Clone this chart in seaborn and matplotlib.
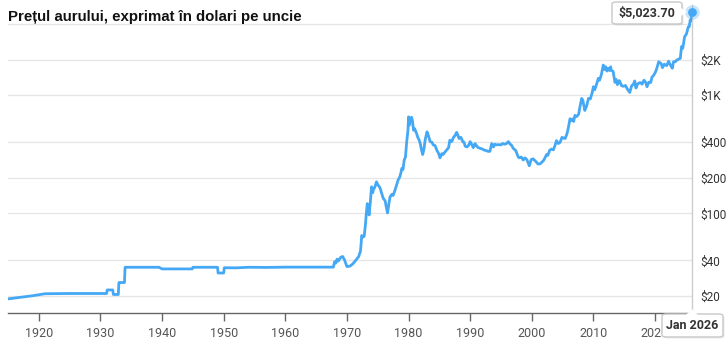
import matplotlib
matplotlib.use("Agg")
import matplotlib.pyplot as plt
import seaborn as sns
import pandas as pd
from matplotlib.patches import FancyBboxPatch, Polygon

title = "Prețul aurului, exprimat în dolari pe uncie"

years = [1915.0, 1917.0, 1919.0, 1920.0, 1921.0, 1925.0, 1931.0, 1931.1, 1932.0, 1932.1,
         1932.9, 1933.0, 1933.9, 1934.0, 1939.5, 1940.0, 1944.9, 1945.0, 1949.0, 1949.1,
         1950.0, 1950.1, 1952.0, 1954.0, 1957.0, 1960.0, 1967.8, 1968.0, 1968.2, 1968.4,
         1968.6, 1969.0, 1969.3, 1969.6, 1970.0, 1970.5, 1971.0, 1971.5, 1971.9, 1972.2,
         1972.3, 1972.4, 1972.6, 1972.8, 1973.0, 1973.1, 1973.3, 1973.45, 1973.6, 1973.8,
         1974.0, 1974.2, 1974.3, 1974.5, 1974.8, 1975.0, 1975.2, 1975.4, 1975.6, 1975.9,
         1976.2, 1976.4, 1976.6, 1976.8, 1977.0, 1977.3, 1977.5, 1977.8, 1978.0, 1978.3,
         1978.6, 1978.8, 1978.9, 1979.1, 1979.3, 1979.5, 1979.7, 1979.9, 1980.0, 1980.15,
         1980.3, 1980.5, 1980.65, 1980.8, 1981.0, 1981.3, 1981.5, 1981.7, 1981.9, 1982.1,
         1982.3, 1982.5, 1982.7, 1983.0, 1983.2, 1983.5, 1983.8, 1984.0, 1984.3, 1984.6,
         1984.9, 1985.1, 1985.4, 1985.6, 1985.9, 1986.2, 1986.5, 1986.7, 1987.0, 1987.3,
         1987.6, 1987.8, 1988.0, 1988.2, 1988.5, 1988.8, 1989.0, 1989.2, 1989.5, 1989.8,
         1990.0, 1990.3, 1990.5, 1990.8, 1991.0, 1991.3, 1991.6, 1992.0, 1992.3, 1992.6,
         1992.9, 1993.2, 1993.5, 1993.8, 1994.0, 1994.3, 1994.6, 1995.0, 1995.3, 1995.6,
         1995.9, 1996.2, 1996.5, 1996.7, 1997.0, 1997.4, 1997.8, 1998.0, 1998.3, 1998.6,
         1998.9, 1999.2, 1999.6, 1999.9, 2000.2, 2000.5, 2000.8, 2001.0, 2001.3, 2001.6,
         2001.9, 2002.1, 2002.4, 2002.6, 2002.9, 2003.2, 2003.5, 2003.8, 2004.0, 2004.3,
         2004.6, 2004.9, 2005.1, 2005.4, 2005.7, 2005.9, 2006.2, 2006.4, 2006.6, 2006.8,
         2007.0, 2007.3, 2007.6, 2007.8, 2008.1, 2008.3, 2008.6, 2008.9, 2009.2, 2009.5,
         2009.8, 2010.0, 2010.2, 2010.5, 2010.8, 2011.0, 2011.3, 2011.6, 2011.8, 2012.0,
         2012.2, 2012.4, 2012.6, 2012.8, 2012.9, 2013.2, 2013.5, 2013.7, 2013.9, 2014.2,
         2014.6, 2014.9, 2015.2, 2015.5, 2015.9, 2016.2, 2016.5, 2016.7, 2016.9, 2017.2,
         2017.6, 2017.9, 2018.2, 2018.5, 2018.7, 2019.0, 2019.3, 2019.5, 2019.8, 2020.1,
         2020.3, 2020.6, 2020.8, 2021.0, 2021.2, 2021.5, 2021.7, 2021.9, 2022.2, 2022.5,
         2022.8, 2023.0, 2023.3, 2023.5, 2023.7, 2023.9, 2024.1, 2024.3, 2024.5, 2024.8,
         2025.1, 2025.4, 2025.55, 2025.7, 2025.85, 2026.0]

prices = [18.9, 19.5, 20.1, 20.5, 20.9, 21.0, 21.0, 22.5, 22.5, 20.6,
          20.6, 26.0, 26.0, 35.0, 35.0, 33.9, 33.9, 35.0, 35.0, 31.3,
          31.3, 34.7, 34.6, 35.0, 34.9, 35.1, 35.1, 39.0, 38.0, 41.0,
          39.5, 42.5, 43.2, 40.5, 35.5, 35.8, 37.6, 40.5, 43.0, 48.0,
          55.0, 65.0, 63.0, 64.0, 80.0, 93.0, 121.0, 110.0, 97.0, 125.0,
          168.0, 150.0, 160.0, 165.0, 185.0, 175.0, 170.0, 163.0, 150.0, 134.0,
          128.0, 112.0, 101.0, 120.0, 138.0, 145.0, 142.0, 157.0, 170.0, 191.0,
          205.0, 225.0, 240.0, 235.0, 283.0, 300.0, 404.0, 500.0, 656.0, 560.0,
          640.0, 650.0, 600.0, 506.0, 520.0, 475.0, 440.0, 420.0, 390.0, 345.0,
          315.0, 350.0, 420.0, 490.0, 460.0, 405.0, 400.0, 380.0, 375.0, 342.0,
          320.0, 295.0, 320.0, 315.0, 330.0, 345.0, 360.0, 416.0, 405.0, 440.0,
          460.0, 485.0, 460.0, 430.0, 440.0, 405.0, 400.0, 370.0, 365.0, 380.0,
          405.0, 380.0, 360.0, 390.0, 375.0, 360.0, 356.0, 350.0, 343.0, 340.0,
          335.0, 335.0, 390.0, 365.0, 385.0, 380.0, 382.0, 380.0, 390.0, 385.0,
          390.0, 405.0, 385.0, 378.0, 355.0, 340.0, 300.0, 295.0, 300.0, 283.0,
          295.0, 285.0, 253.0, 285.0, 290.0, 280.0, 270.0, 262.0, 262.0, 270.0,
          280.0, 292.0, 315.0, 310.0, 342.0, 350.0, 345.0, 380.0, 413.0, 390.0,
          400.0, 440.0, 435.0, 430.0, 470.0, 520.0, 632.0, 610.0, 630.0, 600.0,
          675.0, 660.0, 690.0, 790.0, 940.0, 900.0, 743.0, 810.0, 940.0, 930.0,
          1050.0, 1180.0, 1110.0, 1230.0, 1390.0, 1340.0, 1500.0, 1800.0, 1650.0, 1740.0,
          1600.0, 1690.0, 1620.0, 1740.0, 1620.0, 1590.0, 1285.0, 1360.0, 1230.0, 1330.0,
          1200.0, 1190.0, 1210.0, 1130.0, 1055.0, 1200.0, 1240.0, 1320.0, 1150.0, 1250.0,
          1280.0, 1240.0, 1340.0, 1280.0, 1180.0, 1290.0, 1280.0, 1420.0, 1480.0, 1580.0,
          1700.0, 1920.0, 1880.0, 1850.0, 1710.0, 1830.0, 1800.0, 1780.0, 1940.0, 1800.0,
          1690.0, 1920.0, 1920.0, 1980.0, 2000.0, 2030.0, 2050.0, 2580.0, 2500.0, 3125.0,
          3300.0, 3795.0, 3800.0, 4310.0, 4250.0, 5023.70]

y_ticks = [20, 40, 100, 200, 400, 1000, 2000, 4000]
y_labels = ["$20", "$40", "$100", "$200", "$400", "$1K", "$2K", ""]
x_ticks = [1920, 1930, 1940, 1950, 1960, 1970, 1980, 1990, 2000, 2010, 2020]
last_label = "Jan 2026"

df = pd.DataFrame({"year": years, "price": prices})

sns.set_theme(style="white")
plt.rcParams["font.family"] = ["Roboto", "DejaVu Sans"]

W, H = 727, 344
fig = plt.figure(figsize=(W / 100, H / 100), dpi=100)
ax = fig.add_axes([8 / W, 1 - 313 / H, (692 - 8) / W, (313 - 5) / H])

line_color = "#45a8f5"
sns.lineplot(data=df, x="year", y="price", ax=ax, color=line_color, linewidth=2.0, zorder=3)

ax.set_yscale("log")
ax.set_xlim(1915.0, 2026.0)
ax.set_ylim(14.36, 5800)
ax.set_xlabel("")
ax.set_ylabel("")

ax.set_yticks(y_ticks)
ax.set_yticklabels(y_labels)
ax.yaxis.set_minor_locator(matplotlib.ticker.NullLocator())
ax.yaxis.tick_right()
ax.tick_params(axis="y", length=0, labelsize=8.5, labelcolor="#333333", pad=6)
for v in y_ticks:
    ax.axhline(v, color="#e6e6e6", linewidth=1, zorder=1)

ax.set_xticks(x_ticks)
ax.set_xticklabels([str(t) for t in x_ticks])
ax.tick_params(axis="x", length=6, width=1, color="#666666", labelsize=9,
               labelcolor="#555555", pad=4, direction="out", bottom=True)

for s in ["top", "left"]:
    ax.spines[s].set_visible(False)
ax.spines["bottom"].set_color("#666666")
ax.spines["bottom"].set_linewidth(1)
ax.spines["right"].set_color("#cccccc")
ax.spines["right"].set_linewidth(1)

# last point marker
lx, ly = years[-1], prices[-1]
ax.scatter([lx], [ly], s=110, color=line_color, alpha=0.3, zorder=4, clip_on=False, linewidths=0)
ax.scatter([lx], [ly], s=40, color=line_color, zorder=5, clip_on=False, linewidths=0)

# title
fig.text(8 / W, 1 - 17 / H, title, fontsize=10.8, fontweight="bold",
         family=["Liberation Sans", "DejaVu Sans"], color="#111111", va="center", ha="left")


def tooltip(x0, y0, w, h, text, pointer):
    box = FancyBboxPatch((x0 / W, 1 - (y0 + h) / H), w / W, h / H,
                         boxstyle="round,pad=0,rounding_size=0.006",
                         transform=fig.transFigure, fc="white", ec="#c8c8c8", lw=1, zorder=10)
    shadow = FancyBboxPatch(((x0 + 1.5) / W, 1 - (y0 + h + 1.5) / H), w / W, h / H,
                            boxstyle="round,pad=0,rounding_size=0.006",
                            transform=fig.transFigure, fc="#000000", alpha=0.08, ec="none", zorder=9)
    fig.patches.append(shadow)
    fig.patches.append(box)
    tri = Polygon([(px / W, 1 - py / H) for px, py in pointer], closed=True,
                  transform=fig.transFigure, fc="white", ec="none", zorder=11)
    fig.patches.append(tri)
    fig.text((x0 + w / 2) / W, 1 - (y0 + h / 2) / H, text, fontsize=9, fontweight="bold",
             color="#333333", ha="center", va="center", zorder=12)


tooltip(612, 2, 70, 22, f"${prices[-1]:,.2f}", [(681, 8), (687, 12), (681, 16)])
tooltip(662, 314, 61, 23, last_label, [(686, 315), (692, 309), (698, 315)])

fig.savefig("out.png", dpi=100)
